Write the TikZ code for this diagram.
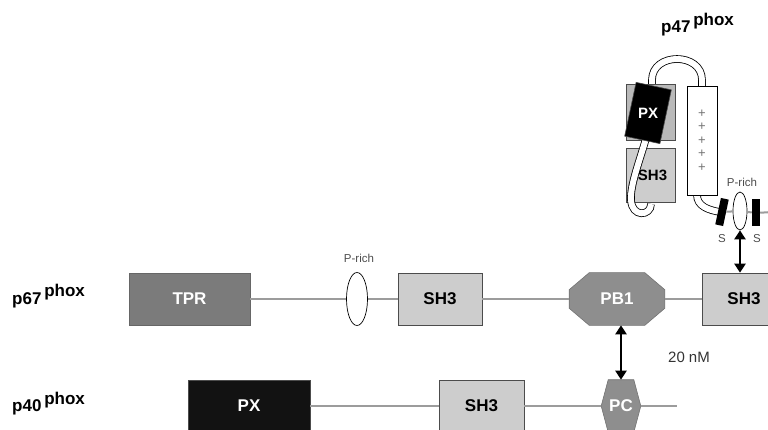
\documentclass[tikz,border=0pt]{standalone}
\usepackage{fontspec}
\setmainfont{Liberation Sans}
\usetikzlibrary{arrows.meta,shapes.geometric,backgrounds,calc}
\definecolor{linegray}{HTML}{9C9C9C}
\definecolor{tprgray}{HTML}{7B7B7B}
\definecolor{shgray}{HTML}{CDCDCD}
\definecolor{pbgray}{HTML}{8E8E8E}
\definecolor{backgray}{HTML}{B9B9B9}
\tikzstyle{backbone} = [draw=linegray, line width=2.7pt]
\tikzstyle{dombox} = [rectangle, minimum height=52pt, inner sep=0pt, text centered, draw=black!70, line width=0.6pt, font=\fontsize{17}{20}\selectfont\bfseries]
\tikzstyle{sh3box} = [dombox, fill=shgray]
\tikzstyle{polybox} = [dombox, draw=none, text=white]
\tikzstyle{prich} = [ellipse, draw=black, line width=0.7pt, fill=white, inner sep=0pt]
\tikzstyle{tube} = [draw=black, line width=0.8pt, double=white, double distance=6pt]
\tikzstyle{arrow} = [line width=2.5pt, {Triangle[length=9pt,width=11pt]}-{Triangle[length=9pt,width=11pt]}]
\tikzstyle{small} = [font=\fontsize{11.5}{13}\selectfont, text=black!70]
\tikzstyle{protein} = [font=\fontsize{17}{19}\selectfont\bfseries, inner sep=0pt]
\newcommand{\phox}{\,\raisebox{7pt}{phox}}

\begin{document}
\begin{tikzpicture}[x=1pt,y=-1pt]
\useasboundingbox (0,0) rectangle (768,430);

% p47phox
\node (p47) [protein, anchor=base west] at (661,33) {p47\phox};
\draw [tube] (652,92) -- (652,80) .. controls (652,52) and (702,52) .. (702,80) -- (702,92);
\draw [tube] (697,185) -- (697,195) .. controls (697,206) and (708,210) .. (720,212);
\node (pxback) [dombox, fill=backgray, minimum width=49pt, minimum height=56pt] at (650.5,112) {};
\node (sh3d) [sh3box, minimum width=49pt, minimum height=54pt, font=\fontsize{15}{18}\selectfont\bfseries] at (650.5,175) {\hspace{4pt}SH3};
\draw [tube] (647,135) .. controls (640,160) and (630,185) .. (631,200) .. controls (632,218) and (651,216) .. (651,204);
\node (px47) [dombox, fill=black, text=white, minimum width=36pt, minimum height=55pt, rotate=-12, font=\fontsize{15}{18}\selectfont\bfseries] at (648,113) {\rotatebox{12}{PX}};
\node (plusrect) [rectangle, draw=black, line width=0.7pt, fill=white, minimum width=30pt, minimum height=109pt, align=center, font=\fontsize{13}{13.4}\selectfont, text=black!55] at (702,140.5) {+\\+\\+\\+\\+};
\node (sbar1) [rectangle, fill=black, minimum width=8pt, minimum height=27pt, inner sep=0pt, rotate=-12] at (722,212) {};
\node (sbar2) [rectangle, fill=black, minimum width=8pt, minimum height=27pt, inner sep=0pt] at (756,213) {};
\node (prich47) [prich, minimum width=14pt, minimum height=38pt] at (740,211) {};
\coordinate (p47end) at (772,212);
\draw [backbone, line width=2pt] (sbar1) -- (prich47);
\draw [backbone, line width=2pt] (prich47) -- (sbar2) -- (p47end);
\node (prlab47) [small] at (742,182) {P-rich};
\node (s1) [small] at (722,239) {S};
\node (s2) [small] at (757,239) {S};

% p67phox
\node (p67) [protein, anchor=base west] at (12,304) {p67\phox};
\node (tpr) [dombox, fill=tprgray, text=white, minimum width=121pt, draw=black!60] at (189.5,299) {TPR};
\node (prich67) [prich, minimum width=21pt, minimum height=53pt] at (357,299) {};
\node (prlab67) [small] at (359,258) {P-rich};
\node (sh3a) [sh3box, minimum width=84pt] at (440,299) {SH3};
\node (pb1) [polybox, minimum width=95pt] at (617,299) {PB1};
\node (sh3b) [sh3box, minimum width=84pt] at (744,299) {SH3};
\draw [backbone] (tpr) -- (prich67);
\draw [backbone] (prich67) -- (sh3a);
\draw [backbone] (sh3a) -- (pb1);
\draw [backbone] (pb1) -- (sh3b);

% p40phox
\node (p40) [protein, anchor=base west] at (12,411) {p40\phox};
\node (px40) [dombox, fill=black!93, text=white, minimum width=122pt] at (249,406) {PX};
\node (sh3c) [sh3box, minimum width=85pt] at (481.5,406) {SH3};
\node (pc) [polybox, minimum width=39pt] at (621,406) {PC};
\coordinate (p40end) at (677,406);
\draw [backbone] (px40) -- (sh3c);
\draw [backbone] (sh3c) -- (pc);
\draw [backbone] (pc) -- (p40end);

\begin{pgfonlayer}{background}
\filldraw [fill=pbgray, draw=black!55, line width=0.6pt] ([xshift=20pt]pb1.north west) -- ([xshift=-20pt]pb1.north east) -- ([yshift=-17pt]pb1.north east) -- ([yshift=17pt]pb1.south east) -- ([xshift=-20pt]pb1.south east) -- ([xshift=20pt]pb1.south west) -- ([yshift=17pt]pb1.south west) -- ([yshift=-17pt]pb1.north west) -- cycle;
\filldraw [fill=pbgray, draw=black!55, line width=0.6pt] ([xshift=7pt]pc.north west) -- ([xshift=-7pt]pc.north east) -- (pc.east) -- ([xshift=-7pt]pc.south east) -- ([xshift=7pt]pc.south west) -- (pc.west) -- cycle;
\end{pgfonlayer}

% binding
\draw [arrow] (pb1.south -| pc.north) -- (pc.north);
\node (kd) [font=\fontsize{15}{17}\selectfont, text=black!80] at (689,357) {20 nM};
\draw [arrow] (prich47.south) -- (prich47.south |- sh3b.north);
\end{tikzpicture}
\end{document}
